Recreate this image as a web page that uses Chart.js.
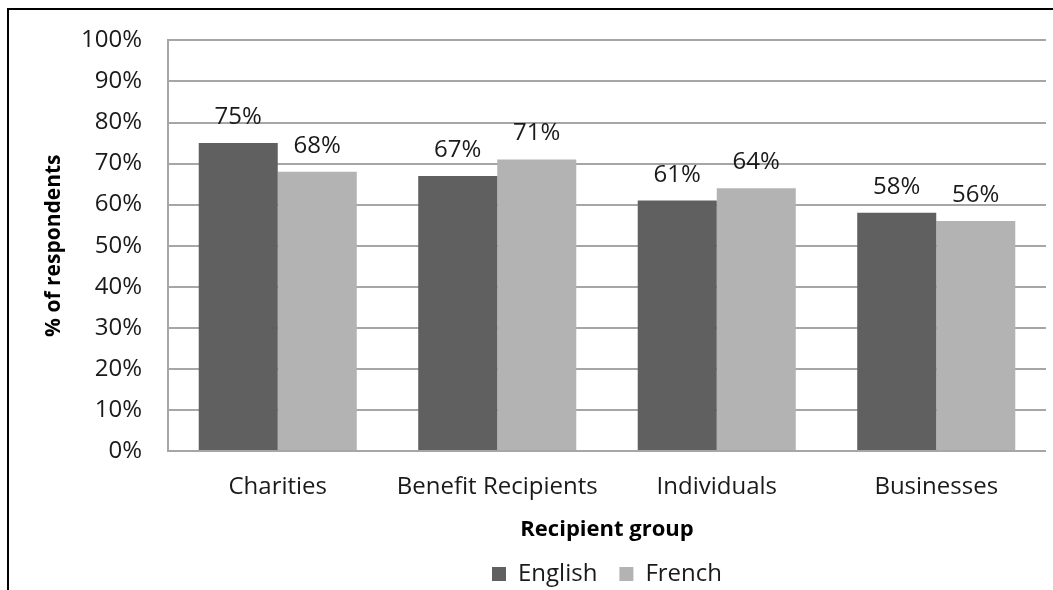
<!DOCTYPE html>
<html>
<head>
<meta charset="utf-8">
<script src="https://cdn.jsdelivr.net/npm/chart.js@4.4.1/dist/chart.umd.min.js"></script>
<style>
  html, body { margin: 0; padding: 0; background: #fff; }
  #wrap { position: relative; width: 1053px; height: 590px; overflow: hidden; }
  #frame {
    position: absolute; left: 7px; top: 8px; right: 0; bottom: -4px;
    border-left: 2px solid #000; border-top: 2px solid #000;
    pointer-events: none;
  }
  canvas { position: absolute; left: 0; top: 0; }
</style>
</head>
<body>
<div id="wrap">
  <canvas id="recipientChart" width="1053" height="590"></canvas>
  <div id="frame"></div>
</div>
<script>
// survey answers per recipient group
var groups = ['Charities', 'Benefit Recipients', 'Individuals', 'Businesses'];
var english = [75, 67, 61, 58];
var french = [68, 71, 64, 56];
var yTicks = [0, 10, 20, 30, 40, 50, 60, 70, 80, 90, 100];

var FONT = "'Open Sans', sans-serif";
var TEXT = '#1a1a1a';
var gridGrey = '#a6a6a6';

// writes the % value above each bar
var barValues = {
  id: 'barValues',
  afterDatasetsDraw: function(chart) {
    var ctx = chart.ctx;
    ctx.save();
    ctx.font = '24px ' + FONT;
    ctx.fillStyle = TEXT;
    ctx.textAlign = 'center';
    ctx.textBaseline = 'alphabetic';
    chart.data.datasets.forEach(function(ds, i) {
      chart.getDatasetMeta(i).data.forEach(function(bar, j) {
        ctx.fillText(ds.data[j] + '%', bar.x, bar.y - 19);
      });
    });
    ctx.restore();
  }
};

// center the legend under the plot, not the whole canvas
var legendUnderPlot = {
  id: 'legendUnderPlot',
  afterLayout: function(chart) {
    if (chart.legend) {
      chart.legend.left = chart.chartArea.left;
      chart.legend.right = chart.chartArea.right;
    }
  }
};

var ctx = document.getElementById('recipientChart');
var recipientChart = new Chart(ctx, {
  type: 'bar',
  data: {
    labels: groups,
    datasets: [
      { label: 'English', data: english, backgroundColor: '#606060', borderWidth: 0 },
      { label: 'French', data: french, backgroundColor: '#b3b3b3', borderWidth: 0 }
    ]
  },
  options: {
    responsive: false,
    animation: false,
    layout: { padding: { left: 0, right: 7, top: 38, bottom: -6 } },
    datasets: { bar: { categoryPercentage: 0.72, barPercentage: 1 } },
    scales: {
      x: {
        grid: { display: false },
        border: { display: false },
        ticks: { color: TEXT, font: { family: FONT, size: 24 }, padding: 14 },
        title: {
          display: true,
          text: 'Recipient group',
          color: '#000',
          font: { family: FONT, size: 22, weight: 'bold', lineHeight: 1 },
          padding: { top: 4, bottom: -1 }
        },
        afterFit: function(scale) { scale.height = 89; }
      },
      y: {
        min: 0,
        max: 100,
        afterBuildTicks: function(scale) {
          scale.ticks = yTicks.map(function(v) { return { value: v }; });
        },
        grid: { color: gridGrey, lineWidth: 2, drawTicks: false },
        border: { display: true, color: gridGrey, width: 2 },
        ticks: {
          color: TEXT,
          font: { family: FONT, size: 24 },
          padding: 26,
          callback: function(v) { return v + '%'; }
        },
        title: {
          display: true,
          text: '% of respondents',
          color: '#000',
          font: { family: FONT, size: 21, weight: 'bold' },
          padding: { top: 41, bottom: 0 }
        },
        afterFit: function(scale) { scale.width = 168; }
      }
    },
    plugins: {
      legend: {
        position: 'bottom',
        labels: {
          color: TEXT,
          font: { family: FONT, size: 24 },
          boxWidth: 14,
          boxHeight: 14,
          padding: 22
        }
      },
      tooltip: { enabled: false }
    }
  },
  plugins: [barValues, legendUnderPlot]
});
</script>
</body>
</html>
